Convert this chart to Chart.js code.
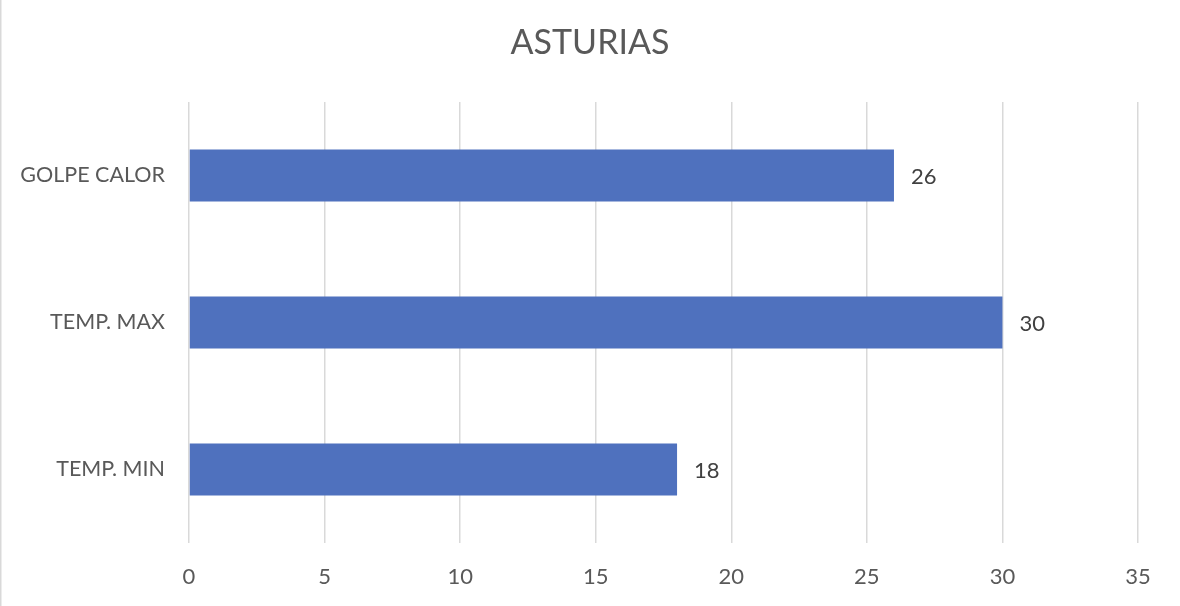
<!DOCTYPE html>
<html>
<head>
<meta charset="utf-8">
<script src="https://cdn.jsdelivr.net/npm/chart.js@4"></script>
<style>
html,body{margin:0;padding:0;background:#fff;}
#wrap{width:1180px;height:606px;position:relative;}
</style>
</head>
<body>
<div id="wrap"><canvas id="c" width="1180" height="606"></canvas></div>
<script>
const categories = ["GOLPE CALOR", "TEMP. MAX", "TEMP. MIN"];
const values = [26, 30, 18];
const xTicks = [0, 5, 10, 15, 20, 25, 30, 35];
const chartTitle = "ASTURIAS";

const FONT = "Lato, 'Open Sans', sans-serif";

const leftBorder = {
  id: 'leftBorder',
  beforeDraw(chart) {
    const ctx = chart.ctx;
    ctx.save();
    ctx.fillStyle = '#d9d9d9';
    ctx.fillRect(0, 0, 1.5, chart.height);
    ctx.restore();
  }
};

const centeredTitle = {
  id: 'centeredTitle',
  afterDraw(chart) {
    const ctx = chart.ctx;
    ctx.save();
    ctx.fillStyle = '#595959';
    ctx.font = "34px " + FONT;
    ctx.textAlign = 'center';
    ctx.textBaseline = 'middle';
    ctx.fillText(chartTitle, chart.width / 2, 43);
    ctx.restore();
  }
};

const valueLabels = {
  id: 'valueLabels',
  afterDatasetsDraw(chart) {
    const ctx = chart.ctx;
    const meta = chart.getDatasetMeta(0);
    ctx.save();
    ctx.fillStyle = '#404040';
    ctx.font = "22px " + FONT;
    ctx.textAlign = 'left';
    ctx.textBaseline = 'middle';
    meta.data.forEach((bar, i) => {
      ctx.fillText(String(values[i]), bar.x + 17, bar.y + 1);
    });
    ctx.restore();
  }
};

new Chart(document.getElementById('c'), {
  type: 'bar',
  data: {
    labels: categories,
    datasets: [{
      data: values,
      backgroundColor: '#4F71BE',
      borderWidth: 0,
      barPercentage: 0.354,
      categoryPercentage: 1
    }]
  },
  options: {
    indexAxis: 'y',
    responsive: false,
    animation: false,
    layout: { padding: { left: 0, right: 42, top: 102, bottom: 0 } },
    plugins: {
      legend: { display: false },
      tooltip: { enabled: false },
      title: { display: false }
    },
    scales: {
      x: {
        type: 'linear',
        min: xTicks[0],
        max: xTicks[xTicks.length - 1],
        afterBuildTicks(scale) { scale.ticks = xTicks.map(v => ({ value: v })); },
        afterFit(scale) { scale.height = 63; },
        grid: { color: '#d9d9d9', lineWidth: 1.5, drawTicks: false },
        border: { display: false },
        ticks: { color: '#595959', font: { family: FONT, size: 22 }, padding: 21 }
      },
      y: {
        afterFit(scale) { scale.width = 189; },
        grid: { display: false, drawTicks: false },
        border: { display: false },
        ticks: { color: '#595959', font: { family: FONT, size: 21.5 }, padding: 24 }
      }
    }
  },
  plugins: [leftBorder, valueLabels, centeredTitle]
});
</script>
</body>
</html>
